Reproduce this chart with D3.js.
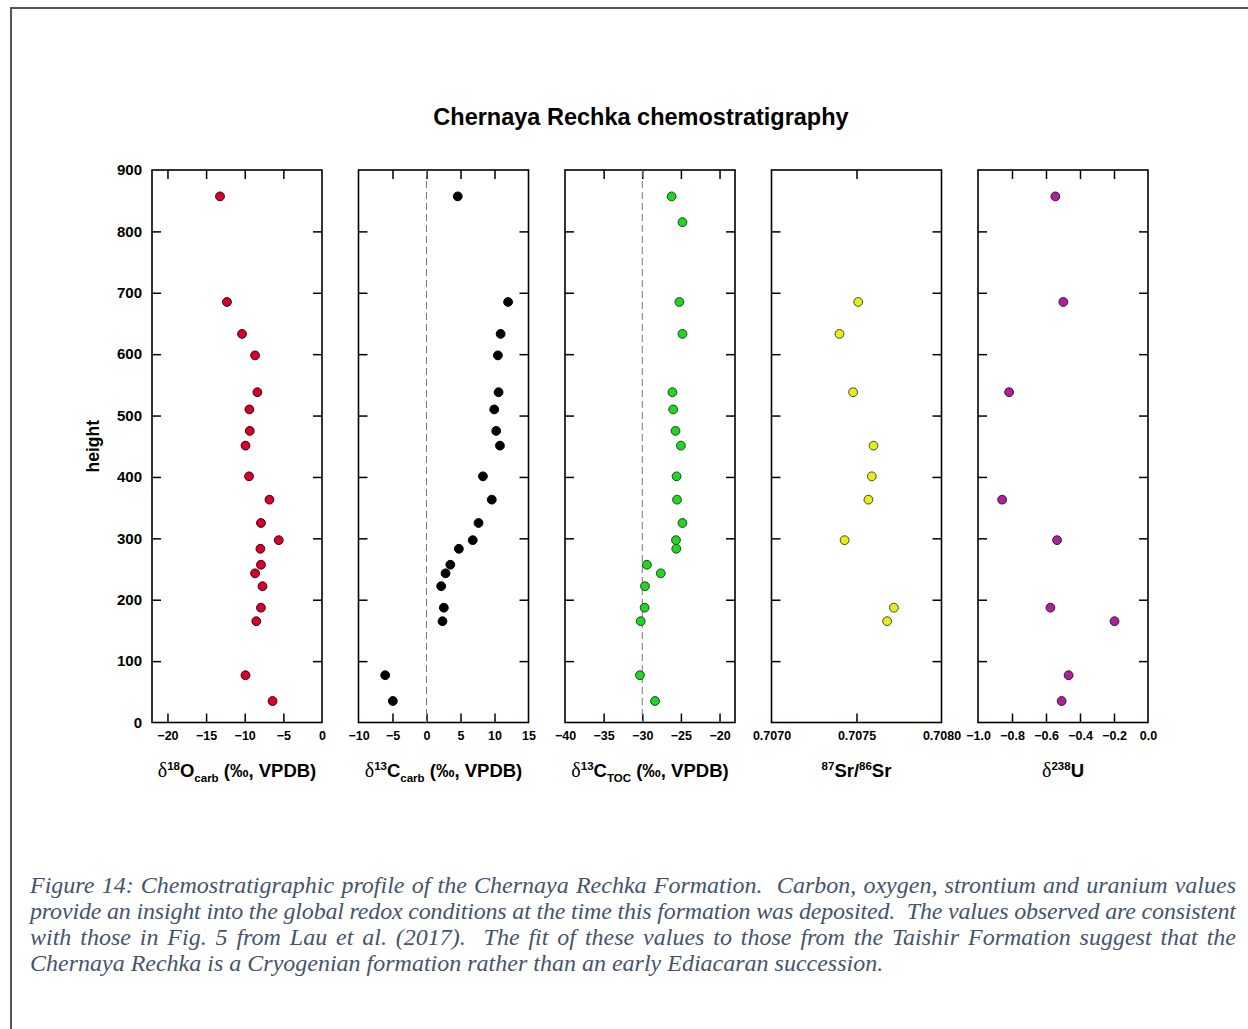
<!DOCTYPE html>
<html>
<head>
<meta charset="utf-8">
<script src="https://cdn.jsdelivr.net/npm/d3@7"></script>
<style>
body{margin:0;background:#fff;}
#wrap{position:relative;width:1248px;height:1029px;overflow:hidden;background:#fff;}
</style>
</head>
<body>
<div id="wrap"></div>
<script>
// ** data **
// carbonate samples (d18O and d13C share heights)
const heightCarb = [857, 685, 633, 598, 538, 510, 475, 451, 401, 363, 325, 297, 283, 257, 243, 222, 187, 165, 77, 35];
const d18O = [-13.2, -12.3, -10.35, -8.66, -8.36, -9.4, -9.35, -9.9, -9.44, -6.8, -7.9, -5.6, -7.97, -7.9, -8.66, -7.7, -7.9, -8.5, -9.9, -6.4];
const d13Ccarb = [4.6, 12.0, 10.9, 10.5, 10.6, 9.96, 10.25, 10.8, 8.3, 9.6, 7.65, 6.8, 4.76, 3.5, 2.8, 2.16, 2.55, 2.35, -6.07, -4.95];
// organic carbon
const heightToc = [857, 815, 685, 633, 538, 510, 475, 451, 401, 363, 325, 297, 283, 257, 243, 222, 187, 165, 77, 35];
const d13Ctoc = [-26.2, -24.8, -25.2, -24.8, -26.1, -26.0, -25.7, -25.0, -25.56, -25.5, -24.8, -25.64, -25.6, -29.4, -27.6, -29.65, -29.7, -30.2, -30.3, -28.35];
// strontium
const heightSr = [685, 633, 538, 451, 401, 363, 297, 187, 165];
const srRatio = [0.70751, 0.70740, 0.70748, 0.70760, 0.70759, 0.70757, 0.70743, 0.70772, 0.70768];
// uranium
const heightU = [857, 685, 538, 363, 297, 187, 165, 77, 35];
const d238U = [-0.545, -0.498, -0.817, -0.858, -0.535, -0.574, -0.197, -0.467, -0.508];

// tick labels
const heightTicks = [0, 100, 200, 300, 400, 500, 600, 700, 800, 900];
const d18OTicks = [-20, -15, -10, -5, 0];
const d13CcarbTicks = [-10, -5, 0, 5, 10, 15];
const d13CtocTicks = [-40, -35, -30, -25, -20];
const srTicks = [0.7070, 0.7075, 0.7080];
const uTicks = [-1.0, -0.8, -0.6, -0.4, -0.2, 0.0];

const captionLines = [
  "Figure 14: Chemostratigraphic profile of the Chernaya Rechka Formation.  Carbon, oxygen, strontium and uranium values",
  "provide an insight into the global redox conditions at the time this formation was deposited.  The values observed are consistent",
  "with those in Fig. 5 from Lau et al. (2017).  The fit of these values to those from the Taishir Formation suggest that the",
  "Chernaya Rechka is a Cryogenian formation rather than an early Ediacaran succession."
];

const W = 1248, H = 1029;

// ** panel layout **
const panelLeft = 152;
const panelStep = 206.5;
const panelW = 170;
const plotTop = 170, plotBottom = 722.5;
const tickLen = 9;
const fontSans = "'Liberation Sans', Arial, sans-serif";
const fontSerif = "'Liberation Serif', 'Times New Roman', serif";

const panels = [
  {h: heightCarb, v: d18O, domain: [-22, 0], ticks: d18OTicks, fmt: d3.format("d"),
   fill: "#d6002b", stroke: "#3a0010", ref: null,
   title: [["δ","sym"],["18","sup"],["O",""],["carb","sub"],[" (‰, VPDB)",""]]},
  {h: heightCarb, v: d13Ccarb, domain: [-10, 15], ticks: d13CcarbTicks, fmt: d3.format("d"),
   fill: "#000000", stroke: "#000000", ref: 0,
   title: [["δ","sym"],["13","sup"],["C",""],["carb","sub"],[" (‰, VPDB)",""]]},
  {h: heightToc, v: d13Ctoc, domain: [-40, -18], ticks: d13CtocTicks, fmt: d3.format("d"),
   fill: "#22d424", stroke: "#174a17", ref: -30,
   title: [["δ","sym"],["13","sup"],["C",""],["TOC","sub"],[" (‰, VPDB)",""]]},
  {h: heightSr, v: srRatio, domain: [0.707, 0.708], ticks: srTicks, fmt: d3.format(".4f"),
   fill: "#e4ee1c", stroke: "#4a4a20", ref: null,
   title: [["87","sup"],["Sr/",""],["86","sup"],["Sr",""]]},
  {h: heightU, v: d238U, domain: [-1, 0], ticks: uTicks, fmt: d3.format(".1f"),
   fill: "#ad2199", stroke: "#3a1040", ref: null,
   title: [["δ","sym"],["238","sup"],["U",""]]}
];

const svg = d3.select("#wrap").append("svg").attr("width", W).attr("height", H);

// page frame (left + top rule of the scanned figure)
svg.append("path")
   .attr("d", `M11,${H} V8 H${W}`)
   .attr("fill", "none")
   .attr("stroke", "#555")
   .attr("stroke-width", 2);

// ** title **
svg.append("text")
   .attr("x", 641)
   .attr("y", 125)
   .attr("text-anchor", "middle")
   .style("font-family", fontSans)
   .style("font-weight", "bold")
   .style("font-size", "23.5px")
   .text("Chernaya Rechka chemostratigraphy");

// shared height scale
const yScale = d3.scaleLinear().domain([0, 900]).range([plotBottom, plotTop]);

// y label
svg.append("text")
   .attr("transform", `translate(99,${(plotTop + plotBottom) / 2}) rotate(-90)`)
   .attr("text-anchor", "middle")
   .style("font-family", fontSans)
   .style("font-weight", "bold")
   .style("font-size", "17.5px")
   .text("height");

panels.forEach((p, i) => {
  const x0 = panelLeft + i * panelStep;
  const xScale = d3.scaleLinear().domain(p.domain).range([x0, x0 + panelW]);
  const g = svg.append("g");

  // interior ticks only on top / right
  const inner = p.ticks.filter(t => t > p.domain[0] && t < p.domain[1]);

  // bottom axis (labels)
  g.append("g")
   .attr("transform", `translate(0,${plotBottom})`)
   .call(d3.axisBottom(xScale).tickValues(p.ticks).tickFormat(p.fmt)
          .tickSizeInner(-tickLen).tickSizeOuter(0).tickPadding(9))
   .call(a => a.select(".domain").remove())
   .call(a => a.selectAll("line").attr("stroke-width", 1.5).filter(d => d <= p.domain[0] || d >= p.domain[1]).remove())
   .call(a => a.selectAll("text").style("font-family", fontSans).style("font-weight", "bold").style("font-size", "12.5px").attr("fill", "#000"));

  // top axis (ticks only)
  g.append("g")
   .attr("transform", `translate(0,${plotTop})`)
   .call(d3.axisTop(xScale).tickValues(inner).tickFormat("").tickSizeInner(-tickLen).tickSizeOuter(0))
   .call(a => a.select(".domain").remove())
   .call(a => a.selectAll("line").attr("stroke-width", 1.5));

  // left axis
  const left = d3.axisLeft(yScale).tickSizeInner(-tickLen).tickSizeOuter(0).tickPadding(10);
  if (i === 0) left.tickValues(heightTicks).tickFormat(d3.format("d"));
  else left.tickValues(heightTicks.slice(1, -1)).tickFormat("");
  g.append("g")
   .attr("transform", `translate(${x0},0)`)
   .call(left)
   .call(a => a.select(".domain").remove())
   .call(a => a.selectAll("line").attr("stroke-width", 1.5).filter(d => d <= 0 || d >= 900).remove())
   .call(a => a.selectAll("text").style("font-family", fontSans).style("font-weight", "bold").style("font-size", "15px").attr("fill", "#000"));

  // right axis (ticks only)
  g.append("g")
   .attr("transform", `translate(${x0 + panelW},0)`)
   .call(d3.axisRight(yScale).tickValues(heightTicks.slice(1, -1)).tickFormat("").tickSizeInner(-tickLen).tickSizeOuter(0))
   .call(a => a.select(".domain").remove())
   .call(a => a.selectAll("line").attr("stroke-width", 1.5));

  // panel frame
  g.append("rect")
   .attr("x", x0).attr("y", plotTop)
   .attr("width", panelW).attr("height", plotBottom - plotTop)
   .attr("fill", "none").attr("stroke", "#000").attr("stroke-width", 1.6);

  // reference line
  if (p.ref !== null) {
    g.append("line")
     .attr("x1", xScale(p.ref)).attr("x2", xScale(p.ref))
     .attr("y1", plotTop).attr("y2", plotBottom)
     .attr("stroke", "#777").attr("stroke-width", 1)
     .attr("stroke-dasharray", "7,4");
  }

  // points
  g.selectAll("circle")
   .data(p.v.map((v, k) => [v, p.h[k]]))
   .enter()
   .append("circle")
   .attr("cx", d => xScale(d[0]))
   .attr("cy", d => yScale(d[1]))
   .attr("r", 4.4)
   .attr("fill", p.fill)
   .attr("stroke", p.stroke)
   .attr("stroke-width", 1);

  // axis title with super/subscripts
  const t = g.append("text")
   .attr("x", x0 + panelW / 2)
   .attr("y", 777)
   .attr("text-anchor", "middle")
   .style("font-family", fontSans)
   .style("font-weight", "bold")
   .style("font-size", "18.5px");
  let cur = 0;
  p.title.forEach(([s, kind]) => {
    const off = kind === "sup" ? -7 : kind === "sub" ? 5 : 0;
    const ts = t.append("tspan").attr("dy", off - cur).text(s);
    cur = off;
    if (kind === "sup" || kind === "sub") ts.style("font-size", "11.5px");
    if (kind === "sym") ts.style("font-family", fontSerif).style("font-weight", "normal").style("font-size", "20px");
  });
});

// ** caption (justified by hand) **
const capX = 30, capW = 1206, capY0 = 893, capLH = 26;
captionLines.forEach((line, i) => {
  const t = svg.append("text")
     .attr("x", capX)
     .attr("y", capY0 + i * capLH)
     .style("font-family", fontSerif)
     .style("font-style", "italic")
     .style("font-size", "24px")
     .style("white-space", "pre")
     .attr("fill", "#44546a")
     .text(line);
  if (i === captionLines.length - 1) return;
  const natural = t.node().getComputedTextLength();
  const spaces = (line.match(/ /g) || []).length;
  if (natural < capW) t.style("word-spacing", ((capW - natural) / spaces) + "px");
  else t.style("letter-spacing", ((capW - natural) / (line.length - 1)) + "px");
});
</script>
</body>
</html>
